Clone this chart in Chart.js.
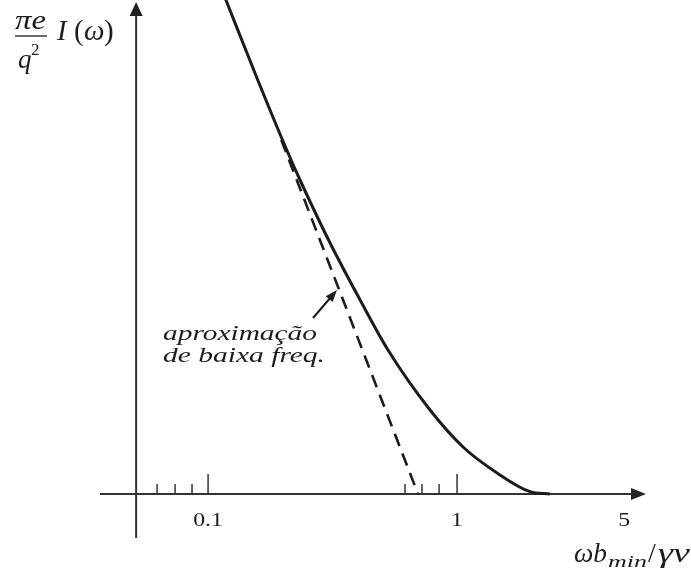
<!DOCTYPE html>
<html>
<head>
<meta charset="utf-8">
<script src="https://cdn.jsdelivr.net/npm/chart.js@4.4.1/dist/chart.umd.min.js"></script>
<style>
  body { margin: 0; background: #fff; }
  canvas { display: block; }
</style>
</head>
<body>
<canvas id="espectro" width="691" height="571"></canvas>
<script>
// espectro I(w) em funcao de w*bmin/(gamma*v)
const curveX = [0.1175, 0.1583, 0.207, 0.234, 0.309, 0.408, 0.528, 0.779, 1.057, 1.448, 1.964, 2.36];
const curveY = [4.95, 4.14, 3.44, 3.14, 2.51, 1.94, 1.44, 0.84, 0.47, 0.21, 0.023, 0];

// aproximacao de baixa frequencia (reta no eixo log)
const approxX = [0.1968, 0.697];
const approxY = [3.54, 0];

const majorTicks = [0.1, 1];
const minorTicks = [0.0624, 0.0737, 0.0862, 0.618, 0.723, 0.847];
const tickLabels = ["0.1", "1", "5"];
const tickLabelValues = [0.1, 1, 5];

const yAxisAt = 0.0514;
const ink = "#1c1c1c";
const serif = "'Liberation Serif', 'DejaVu Serif', serif";

function toPoints(xs, ys) {
  return xs.map((x, i) => ({ x: x, y: ys[i] }));
}

// texto esticado na horizontal (fonte CM e mais larga)
function wideText(ctx, text, x, y, sx, align) {
  const w = ctx.measureText(text).width * sx;
  let left = x;
  if (align === "center") left = x - w / 2;
  ctx.save();
  ctx.textAlign = "left";
  ctx.translate(left, y);
  ctx.scale(sx, 1);
  ctx.fillText(text, 0, 0);
  ctx.restore();
  return left + w;
}

// texto ajustado a uma largura fixa
function fitText(ctx, text, x, y, width) {
  const sx = width / ctx.measureText(text).width;
  return wideText(ctx, text, x, y, sx, "left");
}

function arrowHead(ctx, x, y, dir, len, half) {
  ctx.beginPath();
  if (dir === "up") {
    ctx.moveTo(x, y);
    ctx.lineTo(x - half, y + len);
    ctx.lineTo(x + half, y + len);
  } else {
    ctx.moveTo(x, y);
    ctx.lineTo(x - len, y - half);
    ctx.lineTo(x - len, y + half);
  }
  ctx.closePath();
  ctx.fill();
}

const axesPlugin = {
  id: "eixos",
  beforeDatasetsDraw(chart) {
    const ctx = chart.ctx;
    const xs = chart.scales.x, ys = chart.scales.y;
    const x0 = xs.getPixelForValue(yAxisAt);
    const y0 = ys.getPixelForValue(0);
    ctx.save();
    ctx.strokeStyle = "#333";
    ctx.fillStyle = "#222";
    ctx.lineWidth = 2;
    // eixo horizontal
    ctx.beginPath();
    ctx.moveTo(100, y0);
    ctx.lineTo(xs.right - 12, y0);
    ctx.stroke();
    arrowHead(ctx, xs.right, y0, "right", 15, 6);
    // eixo vertical
    ctx.beginPath();
    ctx.moveTo(x0, chart.chartArea.bottom);
    ctx.lineTo(x0, 14);
    ctx.stroke();
    arrowHead(ctx, x0, 2, "up", 14, 6.5);
    // marcas
    ctx.lineWidth = 1.5;
    majorTicks.forEach(v => {
      const px = xs.getPixelForValue(v);
      ctx.beginPath(); ctx.moveTo(px, y0); ctx.lineTo(px, y0 - 20); ctx.stroke();
    });
    minorTicks.forEach(v => {
      const px = xs.getPixelForValue(v);
      ctx.beginPath(); ctx.moveTo(px, y0); ctx.lineTo(px, y0 - 10); ctx.stroke();
    });
    // rotulos
    ctx.fillStyle = ink;
    ctx.font = "19px " + serif;
    ctx.textBaseline = "alphabetic";
    tickLabels.forEach((t, i) => {
      let px = xs.getPixelForValue(tickLabelValues[i]);
      if (t === "5") px -= 7;
      wideText(ctx, t, px, 526, 1.25, "center");
    });
    ctx.restore();
  },
  afterDatasetsDraw(chart) {
    const ctx = chart.ctx;
    ctx.save();
    ctx.fillStyle = ink;
    ctx.strokeStyle = ink;
    ctx.textBaseline = "alphabetic";
    ctx.textAlign = "left";

    // rotulo do eixo y: (pi e / q^2) I(w)
    ctx.font = "italic 27px " + serif;
    fitText(ctx, "πe", 15, 29, 31);
    ctx.fillText("q", 18, 68);
    ctx.font = "17px " + serif;
    ctx.fillText("2", 31, 55);
    ctx.lineWidth = 1.3;
    ctx.beginPath(); ctx.moveTo(15, 36); ctx.lineTo(47, 36); ctx.stroke();
    ctx.font = "italic 29px " + serif;
    ctx.fillText("I", 57, 40);
    ctx.font = "29px " + serif;
    ctx.fillText("(", 74, 40);
    ctx.font = "italic 29px " + serif;
    ctx.fillText("ω", 84, 40);
    ctx.font = "29px " + serif;
    ctx.fillText(")", 104, 40);

    // rotulo do eixo x: w b_min / gamma v
    ctx.font = "italic 28px " + serif;
    fitText(ctx, "ωb", 574, 562, 33);
    ctx.font = "italic 17px " + serif;
    fitText(ctx, "min", 608, 567, 39);
    ctx.font = "28px " + serif;
    ctx.fillText("/", 648, 562);
    ctx.font = "italic 28px " + serif;
    fitText(ctx, "γv", 658, 562, 32);

    // anotacao
    ctx.font = "italic 21px " + serif;
    fitText(ctx, "aproximação", 163, 340, 154);
    fitText(ctx, "de baixa freq.", 163, 362, 162);
    ctx.lineWidth = 2;
    ctx.beginPath(); ctx.moveTo(313, 318); ctx.lineTo(331, 297); ctx.stroke();
    ctx.save();
    ctx.translate(337, 290);
    ctx.rotate(Math.atan2(-28, 24));
    ctx.beginPath();
    ctx.moveTo(0, 0); ctx.lineTo(-12, -4.5); ctx.lineTo(-12, 4.5); ctx.closePath();
    ctx.fill();
    ctx.restore();
    ctx.restore();
  }
};

new Chart(document.getElementById("espectro"), {
  type: "line",
  data: {
    datasets: [{
      label: "I(ω)",
      data: toPoints(curveX, curveY),
      borderColor: ink,
      borderWidth: 3,
      pointRadius: 0,
      cubicInterpolationMode: "monotone",
      fill: false
    }, {
      label: "aproximação de baixa freq.",
      data: toPoints(approxX, approxY),
      borderColor: ink,
      borderWidth: 2.6,
      borderDash: [13, 8],
      pointRadius: 0,
      tension: 0,
      fill: false
    }]
  },
  plugins: [axesPlugin],
  options: {
    responsive: false,
    animation: false,
    layout: { padding: { left: 100, right: 45, top: 0, bottom: 33 } },
    plugins: {
      legend: { display: false },
      tooltip: { enabled: false }
    },
    scales: {
      x: { type: "logarithmic", min: 0.0368, max: 5.74, display: false },
      y: { type: "linear", min: -0.44, max: 4.94, display: false }
    }
  }
});
</script>
</body>
</html>
